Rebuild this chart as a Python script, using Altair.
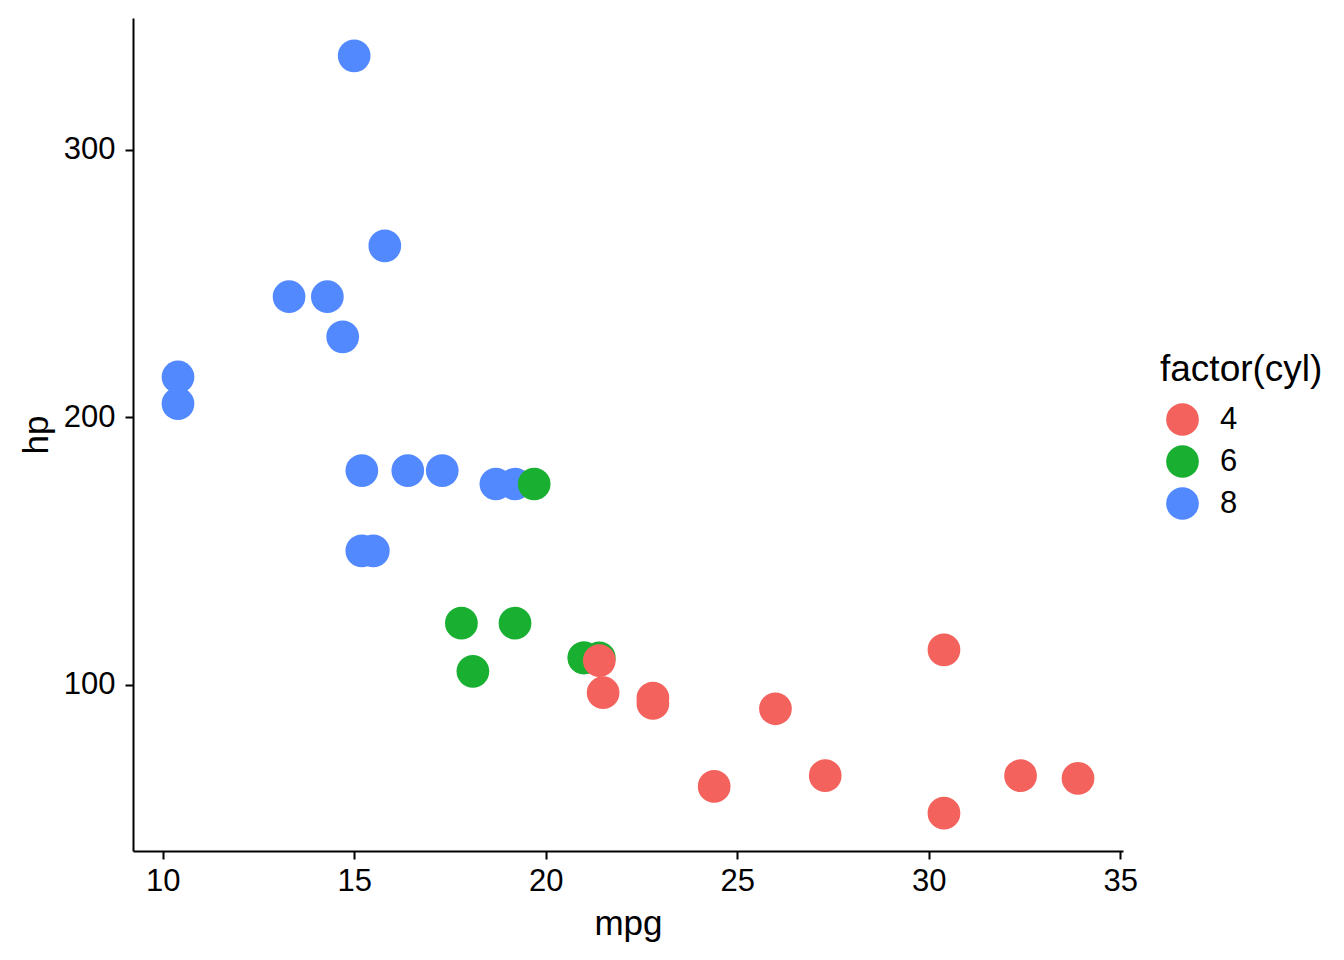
import altair as alt
import pandas as pd

# mtcars: mpg, hp, cyl (row order kept so overlaps draw like the original)
mpg = [21.0, 21.0, 22.8, 21.4, 18.7, 18.1, 14.3, 24.4, 22.8, 19.2, 17.8,
       16.4, 17.3, 15.2, 10.4, 10.4, 14.7, 32.4, 30.4, 33.9, 21.5, 15.5,
       15.2, 13.3, 19.2, 27.3, 26.0, 30.4, 15.8, 19.7, 15.0, 21.4]
hp = [110, 110, 93, 110, 175, 105, 245, 62, 95, 123, 123,
      180, 180, 180, 205, 215, 230, 66, 52, 65, 97, 150,
      150, 245, 175, 66, 91, 113, 264, 175, 335, 109]
cyl = [6, 6, 4, 6, 8, 6, 8, 4, 4, 6, 6,
       8, 8, 8, 8, 8, 8, 4, 4, 4, 4, 8,
       8, 8, 8, 4, 4, 4, 8, 6, 8, 4]

cyl_levels = ['4', '6', '8']
cyl_colors = ['#F4625D', '#19B032', '#5389FF']

df = pd.DataFrame({'mpg': mpg, 'hp': hp, 'cyl': [str(c) for c in cyl]})
df['order'] = range(len(df))

font = 'Liberation Sans'

chart = alt.Chart(df).mark_circle(size=1070, opacity=1).encode(
    x=alt.X('mpg:Q', title='mpg',
            scale=alt.Scale(domain=[9.225, 35.075], nice=False, zero=False),
            axis=alt.Axis(values=[10, 15, 20, 25, 30, 35],
                          labelPadding=7, titlePadding=10)),
    y=alt.Y('hp:Q', title='hp',
            scale=alt.Scale(domain=[37.85, 349.15], nice=False, zero=False),
            axis=alt.Axis(values=[100, 200, 300],
                          labelPadding=10, titlePadding=9)),
    color=alt.Color('cyl:N', title='factor(cyl)',
                    scale=alt.Scale(domain=cyl_levels, range=cyl_colors),
                    legend=alt.Legend(orient='none', legendX=1027, legendY=334,
                                      symbolType='circle', symbolSize=1070,
                                      symbolStrokeWidth=0, symbolOpacity=1,
                                      symbolOffset=6,
                                      titleFontSize=37, labelFontSize=31,
                                      titleFontWeight='normal', titlePadding=14,
                                      rowPadding=9, labelOffset=21,
                                      titleColor='black', labelColor='black',
                                      titleFont=font, labelFont=font)),
    order='order:Q'
).properties(
    width=990, height=833,
    autosize=alt.AutoSizeParams(type='none'),
    padding={'left': 125, 'top': 10, 'right': 213, 'bottom': 110}
).configure_view(
    stroke=None
).configure_axis(
    grid=False,
    domainColor='black', domainWidth=2,
    tickColor='black', tickWidth=2, tickSize=8,
    labelFont=font, labelFontSize=31, labelColor='black',
    titleFont=font, titleFontSize=35, titleFontWeight='normal', titleColor='black'
)

chart.save("out.html", embed_options={"renderer": "svg", "actions": False})
